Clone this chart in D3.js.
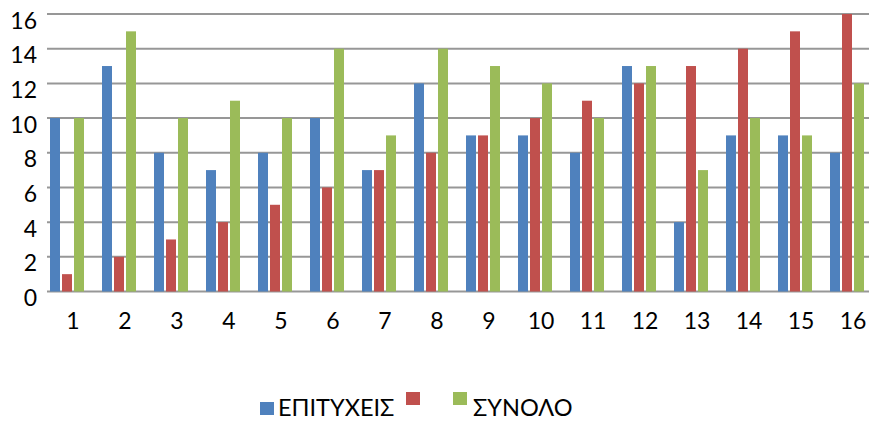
<!DOCTYPE html>
<html>
<head>
<meta charset="utf-8">
<script src="https://cdn.jsdelivr.net/npm/d3@7"></script>
<style>
  html, body { margin: 0; padding: 0; background: #fff; }
  svg { display: block; font-family: Lato, "Open Sans", sans-serif; }
</style>
</head>
<body>
<svg id="chart" width="871" height="421"></svg>
<script>
// Categories along the x axis
const categories = ["1","2","3","4","5","6","7","8","9","10","11","12","13","14","15","16"];
// Series values
const epityxeis = [10, 13, 8, 7, 8, 10, 7, 12, 9, 9, 8, 13, 4, 9, 9, 8];
const second    = [1, 2, 3, 4, 5, 6, 7, 8, 9, 10, 11, 12, 13, 14, 15, 16];
const synolo    = [10, 15, 10, 11, 10, 14, 9, 14, 13, 12, 10, 13, 7, 10, 9, 12];
// Series names (the second one has no name) and colours
const seriesNames = ["ΕΠΙΤΥΧΕΙΣ", "", "ΣΥΝΟΛΟ"];
const seriesColors = ["#4F81BD", "#C0504D", "#9BBB59"];
// y-axis ticks
const yTicks = [0, 2, 4, 6, 8, 10, 12, 14, 16];

const seriesValues = [epityxeis, second, synolo];
const svg = d3.select("#chart");

const plot = { left: 47, top: 14, bottom: 291.5, right: 869 };
const bandW = 52;

const x = d3.scaleBand()
  .domain(categories)
  .range([plot.left, plot.left + bandW * categories.length])
  .padding(0);

// Four slots per category; the last slot stays empty
const slots = ["s0", "s1", "s2", "s3"];
const xInner = d3.scaleBand()
  .domain(slots)
  .range([3, 49])
  .paddingInner(1 / 6)
  .paddingOuter(0);

const y = d3.scaleLinear().domain([0, 16]).range([plot.bottom, plot.top]);

// Gridlines
svg.append("g")
  .selectAll("line")
  .data(yTicks)
  .join("line")
  .attr("x1", plot.left)
  .attr("x2", plot.right)
  .attr("y1", d => y(d))
  .attr("y2", d => y(d))
  .attr("stroke", "#979797")
  .attr("stroke-width", 2);

// Bars
const groups = svg.append("g")
  .selectAll("g")
  .data(categories)
  .join("g")
  .attr("transform", d => `translate(${x(d)},0)`);

groups.selectAll("rect")
  .data((c, i) => seriesValues.map((vals, s) => ({ s, v: vals[i] })))
  .join("rect")
  .attr("x", d => xInner(slots[d.s]))
  .attr("width", xInner.bandwidth())
  .attr("y", d => y(d.v))
  .attr("height", d => y(0) - y(d.v))
  .attr("fill", d => seriesColors[d.s]);

// Y-axis labels
const yAxis = d3.axisLeft(y).tickValues(yTicks).tickSize(0).tickPadding(10);
const gy = svg.append("g")
  .attr("transform", `translate(${plot.left},0)`)
  .call(yAxis);
gy.select(".domain").remove();
gy.selectAll("text")
  .attr("font-family", "Lato, 'Open Sans', sans-serif")
  .attr("font-size", 23)
  .attr("fill", "#000")
  .attr("dy", "0.61em");

// X-axis labels
const xAxis = d3.axisBottom(x).tickSize(0).tickPadding(21);
const gx = svg.append("g")
  .attr("transform", `translate(0,${plot.bottom})`)
  .call(xAxis);
gx.select(".domain").remove();
gx.selectAll("text")
  .attr("font-family", "Lato, 'Open Sans', sans-serif")
  .attr("font-size", 23)
  .attr("fill", "#000");

// Legend
const legend = svg.append("g");
const legendItems = [
  { s: 0, x: 260, y: 402 },
  { s: 1, x: 406, y: 392 },
  { s: 2, x: 453, y: 392 }
];
legendItems.forEach(it => {
  legend.append("rect")
    .attr("x", it.x).attr("y", it.y)
    .attr("width", 14).attr("height", 13)
    .attr("fill", seriesColors[it.s]);
  if (seriesNames[it.s]) {
    legend.append("text")
      .attr("x", it.x + (it.s === 0 ? 18 : 20))
      .attr("y", 416)
      .attr("font-size", 23.5)
      .attr("fill", "#000")
      .text(seriesNames[it.s]);
  }
});
</script>
</body>
</html>
